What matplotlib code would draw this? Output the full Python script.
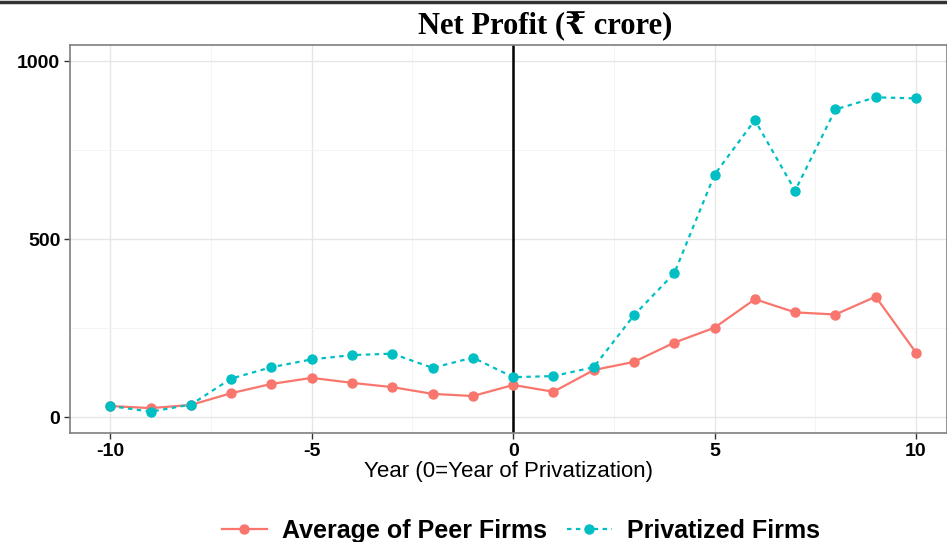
import numpy as np
import matplotlib.pyplot as plt
from matplotlib.lines import Line2D

plt.rcParams['font.family'] = ['Liberation Sans', 'DejaVu Sans']
plt.rcParams['axes.unicode_minus'] = False

# data
years = list(range(-10, 11))
peer_firms = [31, 25, 34, 67, 93, 110, 96, 84, 65, 59, 90,
              71, 132, 155, 209, 251, 331, 294, 288, 338, 181]
privatized_firms = [31, 15, 35, 108, 140, 162, 174, 178, 138, 167, 112,
                    115, 140, 286, 404, 681, 834, 636, 864, 898, 895]

red = '#F8766D'
teal = '#00BFC4'

fig = plt.figure(figsize=(9.47, 5.42), dpi=100)
ax = fig.add_axes([0.074, 0.201, 0.926, 0.716])

ax.plot(years, peer_firms, color=red, lw=1.6, marker='o', ms=6.5, zorder=3)
ax.plot(years, privatized_firms, color=teal, lw=1.6, ls=(0, (2, 2)),
        marker='o', ms=6.5, zorder=3)
ax.axvline(0, color='black', lw=1.8, zorder=2)

ax.set_xlim(-11.0, 10.77)
ax.set_ylim(-45, 1045)
ax.set_xticks([-10, -5, 0, 5, 10])
ax.set_yticks([0, 500, 1000])
ax.set_xticks([-7.5, -2.5, 2.5, 7.5], minor=True)
ax.set_yticks([250, 750], minor=True)
ax.grid(True, which='major', color='#e6e6e6', lw=1.0)
ax.grid(True, which='minor', color='#f2f2f2', lw=0.6)
ax.set_axisbelow(True)
ax.tick_params(which='minor', length=0)
ax.tick_params(which='major', length=4, color='#333333', width=1.0,
               labelsize=14, labelcolor='black', pad=3)
for lab in ax.get_xticklabels() + ax.get_yticklabels():
    lab.set_fontweight('bold')
for s in ax.spines.values():
    s.set_color('#7f7f7f')
    s.set_linewidth(1.2)

ax.set_xlabel('Year (0=Year of Privatization)', fontsize=16, labelpad=1)

fig.text(0.576, 0.951, 'Net Profit (₹ crore)', ha='center', va='center',
         fontsize=22, fontweight='bold', family=['Liberation Serif', 'DejaVu Serif'])

handles = [Line2D([], [], color=red, lw=1.6, marker='o', ms=6.5),
           Line2D([], [], color=teal, lw=1.6, ls=(0, (2, 2)), marker='o', ms=6.5)]
fig.legend(handles, ['Average of Peer Firms', 'Privatized Firms'],
           loc='center', bbox_to_anchor=(0.55, 0.02), ncol=2, frameon=False,
           prop={'weight': 'bold', 'size': 18}, handlelength=1.8,
           columnspacing=0.8, handletextpad=0.6)

fig.add_artist(Line2D([0, 1], [0.997, 0.997], color='#333333', lw=2.5,
                      transform=fig.transFigure))

fig.savefig('out.png', dpi=100)
